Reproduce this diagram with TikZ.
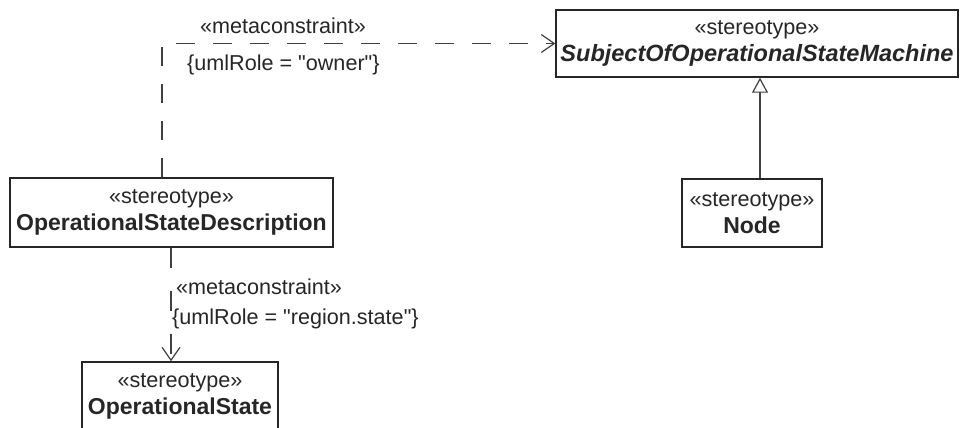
\documentclass[tikz,border=0pt]{standalone}
\usepackage{fontspec}
\setmainfont{Liberation Sans}[Ligatures=TeXOff]
\usetikzlibrary{arrows.meta}
\newcommand{\bname}[1]{{\fontsize{23}{27}\selectfont\bfseries #1}}
\tikzset{
  stbox/.style={draw=black!85, line width=1.4pt, rectangle, inner sep=0pt, align=center,
    font=\fontsize{21.6}{27}\selectfont, text=black!85},
  lbl/.style={inner sep=0pt, anchor=west, font=\fontsize{21.6}{26}\selectfont, text=black!85},
  dep/.style={draw=black!75, line width=1.2pt, dash pattern=on 19pt off 18pt,
    -{Straight Barb[length=13pt,width=18pt,line width=1.2pt]}},
  gen/.style={draw=black!75, line width=1.2pt,
    -{Triangle[open,length=15pt,width=16pt,line width=1.2pt,fill=white]}}
}
\begin{document}
\begin{tikzpicture}[x=1pt,y=-1pt]
\useasboundingbox (0,0) rectangle (964,428);
\node[stbox, minimum width=402pt, minimum height=67pt] (soosm) at (757,43.5)
  {«stereotype»\\{\fontsize{23.5}{27}\selectfont\bfseries\itshape SubjectOfOperationalStateMachine}};
\node[stbox, minimum width=140pt, minimum height=68pt] (nd) at (752,213)
  {«stereotype»\\\bname{Node}};
\node[stbox, minimum width=323pt, minimum height=69pt] (osd) at (171.5,212.5)
  {«stereotype»\\\bname{OperationalStateDescription}};
\node[stbox, minimum width=196pt, minimum height=69pt] (os) at (180,396.5)
  {«stereotype»\\\bname{OperationalState}};
\draw[dep] ([xshift=-9.5pt]osd.north) |- (soosm.west);
\draw[dep, dash pattern=on 20pt off 23pt] ([xshift=-0.5pt]osd.south) -- ([xshift=-0.5pt]osd.south |- os.north);
\draw[gen] ([xshift=8pt]nd.north) -- ([xshift=8pt]nd.north |- soosm.south);
\node[lbl] (l1) at (200,26) {«metaconstraint»};
\node[lbl] (l2) at (187,65) {\{umlRole = "owner"\}};
\node[lbl] (l3) at (176,287) {«metaconstraint»};
\node[lbl] (l4) at (172,319) {\{umlRole = "region.state"\}};
\end{tikzpicture}
\end{document}
